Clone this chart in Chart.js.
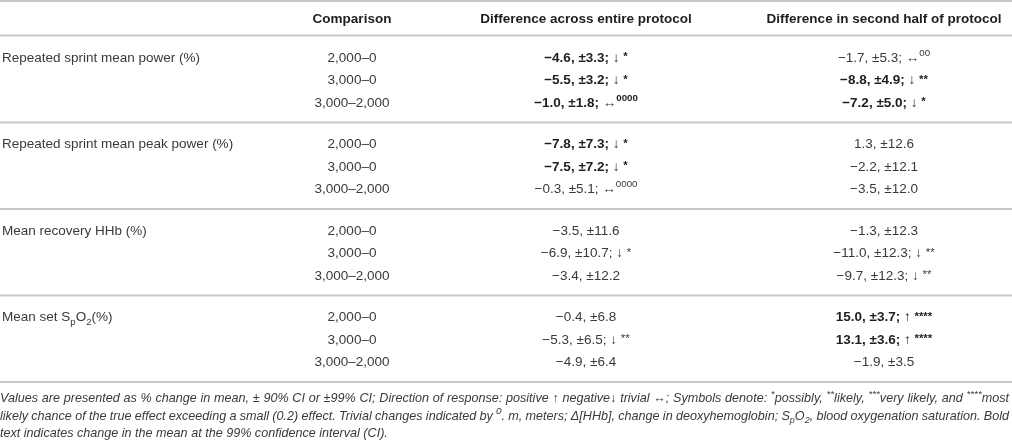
<!DOCTYPE html>
<html><head><meta charset="utf-8">
<script src="https://cdn.jsdelivr.net/npm/chart.js@4.4.1/dist/chart.umd.min.js"></script>
<style>html,body{margin:0;padding:0;background:#fff}#wrap{width:1012px;height:440px;position:relative}</style>
</head><body><div id="wrap"><canvas id="c"></canvas></div>
<script>
// ---------------- data ----------------
const headers = ["", "Comparison", "Difference across entire protocol", "Difference in second half of protocol"];
const measures = ["Repeated sprint mean power (%)", "Repeated sprint mean peak power (%)", "Mean recovery HHb (%)", "Mean set S_{p}O_{2}(%)"];
const comparisons = ["2,000–0", "3,000–0", "3,000–2,000"];

const entireMean = [-4.6, -5.5, -1.0, -7.8, -7.5, -0.3, -3.5, -6.9, -3.4, -0.4, -5.3, -4.9];
const entireCI   = [3.3, 3.2, 1.8, 7.3, 7.2, 5.1, 11.6, 10.7, 12.2, 6.8, 6.5, 6.4];
const entireDir  = ["↓", "↓", "↔", "↓", "↓", "↔", "", "↓", "", "", "↓", ""];
const entireSym  = ["*", "*", "0000", "*", "*", "0000", "", "*", "", "", "**", ""];
const entireBold = [1, 1, 1, 1, 1, 0, 0, 0, 0, 0, 0, 0];

const secondMean = [-1.7, -8.8, -7.2, 1.3, -2.2, -3.5, -1.3, -11.0, -9.7, 15.0, 13.1, -1.9];
const secondCI   = [5.3, 4.9, 5.0, 12.6, 12.1, 12.0, 12.3, 12.3, 12.3, 3.7, 3.6, 3.5];
const secondDir  = ["↔", "↓", "↓", "", "", "", "", "↓", "↓", "↑", "↑", ""];
const secondSym  = ["00", "**", "*", "", "", "", "", "**", "**", "****", "****", ""];
const secondBold = [0, 1, 1, 0, 0, 0, 0, 0, 0, 1, 1, 0];

const footnote = [
  "Values are presented as % change in mean, ± 90% CI or ±99% CI; Direction of response: positive ↑ negative↓ trivial ↔; Symbols denote: ^{*}possibly, ^{**}likely, ^{***}very likely, and ^{****}most",
  "likely chance of the true effect exceeding a small (0.2) effect. Trivial changes indicated by ^{0}. m, meters; Δ[HHb], change in deoxyhemoglobin; S_{p}O_{2}, blood oxygenation saturation. Bold",
  "text indicates change in the mean at the 99% confidence interval (CI)."
];

// ---------------- layout ----------------
const W = 1012, H = 440;
const UNIT = 22.35;               // px per row unit
const Y_MAX = H / UNIT;
const COL_X = [2, 352, 586, 884];
const COL_ALIGN = ["left", "center", "center", "center"];
const HEADER_Y = 0.8;
const FIRST_ROW = 2.55;
const GROUP_PITCH = 3.87;
const FOOT_Y = [17.8, 18.57, 19.33];
const FONT = '"Liberation Sans", Arial, Helvetica, sans-serif';
const BASE = 13.5;
const FOOT_SIZE = 12.6;

function rowY(g, r) { return FIRST_ROW + g * GROUP_PITCH + r; }

function parseMarkup(str, extra) {
  const out = [];
  str.split(/(\^\{[^}]*\}|_\{[^}]*\})/).forEach(p => {
    if (!p) return;
    if (p.startsWith("^{")) out.push(Object.assign({ t: p.slice(2, -1), scale: 0.78, dy: -0.42 }, extra));
    else if (p.startsWith("_{")) out.push(Object.assign({ t: p.slice(2, -1), scale: 0.72, dy: 0.25 }, extra));
    else out.push(Object.assign({ t: p }, extra));
  });
  return out;
}
function fmt(v) { return (v < 0 ? "−" : "") + Math.abs(v).toFixed(1); }
function cellSegs(mean, ci, dir, sym, bold) {
  const b = !!bold;
  const segs = [{ t: fmt(mean) + ", ±" + ci.toFixed(1), b }];
  if (dir) {
    segs.push({ t: "; ", b });
    if (dir === "↔") {
      segs.push({ t: "↔", b: false, scale: 1.0 });
      if (sym) segs.push({ t: sym, b, scale: 0.72, dy: -0.42 });
    } else {
      segs.push({ t: dir, b });
      if (sym) { segs.push({ t: " ", b }); segs.push({ t: sym, b, scale: 0.85, dy: -0.12 }); }
    }
  }
  return segs;
}

// build text cells
const cells = [];
headers.forEach((h, c) => { if (h) cells.push({ x: COL_X[c], y: HEADER_Y, align: COL_ALIGN[c], segs: [{ t: h, b: true }] }); });
measures.forEach((m, g) => {
  cells.push({ x: COL_X[0], y: rowY(g, 0), align: "left", segs: parseMarkup(m, {}) });
  comparisons.forEach((cmp, r) => {
    const i = g * comparisons.length + r;
    cells.push({ x: COL_X[1], y: rowY(g, r), align: "center", segs: [{ t: cmp }] });
    cells.push({ x: COL_X[2], y: rowY(g, r), align: "center", segs: cellSegs(entireMean[i], entireCI[i], entireDir[i], entireSym[i], entireBold[i]) });
    cells.push({ x: COL_X[3], y: rowY(g, r), align: "center", segs: cellSegs(secondMean[i], secondCI[i], secondDir[i], secondSym[i], secondBold[i]) });
  });
});
const footCells = footnote.map((f, k) => ({ x: 0, y: FOOT_Y[k], align: "left", foot: true, justify: k < footnote.length - 1 ? 1009 : 0, segs: parseMarkup(f, { i: true }) }));

// horizontal rules
const ruleYs = [0.05, 1.59];
measures.forEach((m, g) => ruleYs.push(rowY(g, comparisons.length - 1) + (GROUP_PITCH - (comparisons.length - 1)) / 2));
const ruleSets = ruleYs.map(v => ({
  type: "line", data: [{ x: 0, y: v }, { x: W, y: v }],
  borderColor: "#c9c9c9", borderWidth: 2, pointRadius: 0, fill: false, order: 2
}));

function drawRich(ctx, segs, x, y, align, base, italic, justify) {
  const pieces = [];
  segs.forEach(s => {
    const size = base * (s.scale || 1);
    const font = ((s.i || italic) ? "italic " : "") + (s.b ? "bold " : "") + size + "px " + FONT;
    const color = s.b ? "#1e1e1e" : "#3a3a3a";
    s.t.split(/( )/).forEach(tok => {
      if (!tok) return;
      ctx.font = font;
      pieces.push({ t: tok, font, color, dy: (s.dy || 0) * base, w: ctx.measureText(tok).width, sp: tok === " " });
    });
  });
  let total = pieces.reduce((a, p) => a + p.w, 0);
  let extra = 0;
  if (justify) {
    const n = pieces.filter(p => p.sp).length;
    if (n) { extra = (justify - total) / n; total = justify; }
  }
  let cx = align === "center" ? x - total / 2 : align === "right" ? x - total : x;
  const baseLine = y + base * 0.36;
  ctx.textAlign = "left";
  ctx.textBaseline = "alphabetic";
  pieces.forEach(p => {
    if (!p.sp) { ctx.font = p.font; ctx.fillStyle = p.color; ctx.fillText(p.t, cx, baseLine + p.dy); }
    cx += p.w + (p.sp ? extra : 0);
  });
}

const textPlugin = {
  id: "tableText",
  afterDatasetsDraw(chart) {
    const ctx = chart.ctx;
    chart.data.datasets.forEach((ds, di) => {
      if (!ds.textCells) return;
      const meta = chart.getDatasetMeta(di);
      meta.data.forEach((el, i) => {
        const d = ds.data[i];
        ctx.save();
        drawRich(ctx, d.segs, el.x, el.y, d.align, d.foot ? FOOT_SIZE : BASE, !!d.foot, d.justify);
        ctx.restore();
      });
    });
  }
};

new Chart(document.getElementById("c"), {
  type: "scatter",
  data: {
    datasets: [
      ...ruleSets,
      { type: "scatter", textCells: true, data: cells.concat(footCells), pointRadius: 0, order: 1 }
    ]
  },
  options: {
    responsive: true, maintainAspectRatio: false, animation: false, events: [],
    layout: { padding: 0 },
    plugins: { legend: { display: false }, tooltip: { enabled: false } },
    scales: {
      x: { type: "linear", min: 0, max: W, display: false },
      y: { type: "linear", min: 0, max: Y_MAX, reverse: true, display: false }
    }
  },
  plugins: [textPlugin]
});
</script></body></html>
